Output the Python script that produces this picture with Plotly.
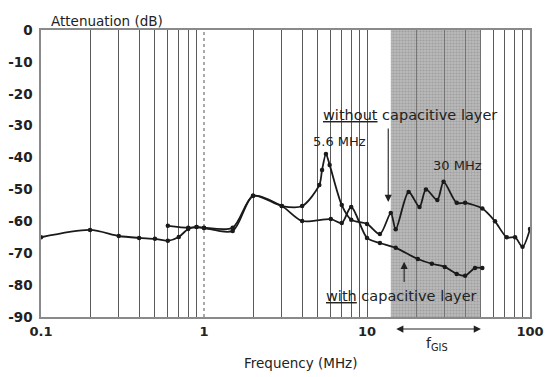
import math
import plotly.graph_objects as go

# ---- data ----
freq_without = [0.1, 0.2, 0.3, 0.4, 0.5, 0.6, 0.7, 0.8, 0.9, 1.0, 1.5, 2.0, 3.0, 4.0, 5.1, 5.3, 5.6, 5.9,
                7.0, 8.0, 10, 12, 14, 15, 18, 21, 23, 27, 29.5, 35.5, 40, 51, 61, 72, 81, 90, 100]
db_without = [-65, -62.7, -64.6, -65.2, -65.5, -66.1, -64.9, -62.4, -61.8, -62.1, -63.0, -52.0, -55.2, -55.2,
              -48.6, -43.9, -38.9, -42.3, -54.9, -59.5, -60.8, -64.0, -57.4, -62.5, -50.8, -55.5, -50.0,
              -53.3, -47.6, -54.2, -54.2, -56.0, -60.0, -65.0, -65.0, -68.0, -62.4]

freq_with = [0.6, 0.8, 0.9, 1.0, 1.5, 2.0, 3.0, 4.0, 6.0, 7.0, 8.0, 10, 12, 15, 20.5, 25, 30, 35.5, 40, 46, 51]
db_with = [-61.4, -62.0, -61.8, -62.0, -62.0, -52.0, -55.2, -59.9, -59.3, -60.5, -55.5, -65.2, -66.8, -68.3,
           -71.8, -73.3, -74.3, -76.5, -77.1, -74.6, -74.6]

gis_band = [14, 50]
y_ticks = [0, -10, -20, -30, -40, -50, -60, -70, -80, -90]
y_tick_text = ["0", "-10", "-20", "-30", "-40", "-50", "-60", "-70", "-80", "-90"]
x_major = [0.1, 1, 10, 100]
x_major_text = ["0.1", "1", "10", "100"]
x_minor = [m * d for d in (0.1, 1, 10) for m in range(2, 10)] + [10, 100]

FONT = "DejaVu Sans"
TXT = "#222"
fig = go.Figure()

# GIS frequency band (shaded)
fig.add_trace(go.Scatter(
    x=[gis_band[0], gis_band[1], gis_band[1], gis_band[0], gis_band[0]],
    y=[0, 0, -90, -90, 0], mode="lines", fill="toself",
    fillcolor="rgba(100,100,100,0.55)", line=dict(width=0),
    fillpattern=dict(shape=".", size=3, solidity=0.4,
                     fgcolor="rgba(95,95,95,0.6)", bgcolor="rgba(140,140,140,0.6)"),
    hoverinfo="skip", showlegend=False))

common = dict(mode="lines+markers", line=dict(color="#1a1a1a", width=1.8, shape="spline", smoothing=0.8),
              marker=dict(color="#1a1a1a", size=4.5), showlegend=False)
fig.add_trace(go.Scatter(x=freq_without, y=db_without, name="without capacitive layer", **common))
fig.add_trace(go.Scatter(x=freq_with, y=db_with, name="with capacitive layer", **common))

# dotted line at 1 MHz
fig.add_shape(type="line", x0=1, x1=1, y0=-90, y1=0, xref="x", yref="y",
              line=dict(color="#555", width=1, dash="dot"), layer="below")

L = math.log10
ann = [
    dict(text="Attenuation (dB)", xref="paper", yref="paper", x=0.016, y=1.0, xanchor="left",
         yanchor="bottom", yshift=-1, showarrow=False, font=dict(size=13.5, family=FONT, color=TXT)),
    dict(text="Frequency (MHz)", xref="paper", yref="paper", x=0.53, y=-0.16, xanchor="center",
         yanchor="middle", showarrow=False, font=dict(size=13.5, family=FONT, color=TXT)),
    dict(text="<u>without</u> capacitive layer", xref="x", yref="y", x=L(5.25), y=-26.6, xanchor="left",
         yanchor="middle", showarrow=False, font=dict(size=14.5, family=FONT, color=TXT)),
    dict(text="<u>with</u> capacitive layer", xref="x", yref="y", x=L(16.2), y=-83.4, xanchor="center",
         yanchor="middle", showarrow=False, font=dict(size=14.5, family=FONT, color=TXT)),
    dict(text="5.6 MHz", xref="x", yref="y", x=L(6.8), y=-35.1, xanchor="center", yanchor="middle",
         showarrow=False, font=dict(size=13, family=FONT, color=TXT)),
    dict(text="30 MHz", xref="x", yref="y", x=L(36), y=-42.6, xanchor="center", yanchor="middle",
         showarrow=False, font=dict(size=13, family=FONT, color=TXT)),
    dict(text="f<sub>GIS</sub>", xref="x", yref="paper", x=L(26.9), y=-0.095, xanchor="center",
         yanchor="middle", showarrow=False, font=dict(size=14, family=FONT, color=TXT)),
    # down arrow to "without" curve
    dict(text="", xref="x", yref="y", x=L(13.5), y=-53.9, axref="x", ayref="y", ax=L(13.5), ay=-30.4,
         showarrow=True, arrowhead=2, arrowsize=1.3, arrowwidth=1.1, arrowcolor=TXT),
    # up arrow to "with" curve
    dict(text="", xref="x", yref="y", x=L(16.9), y=-72.7, axref="x", ayref="y", ax=L(16.9), ay=-79.5,
         showarrow=True, arrowhead=2, arrowsize=1.3, arrowwidth=1.1, arrowcolor=TXT),
    # f_GIS double arrow
    dict(text="", xref="x", yref="paper", x=L(50), y=-0.042, axref="x", ayref="pixel", ax=L(14.8),
         ay=0, showarrow=True, arrowhead=2, arrowside="end+start", arrowsize=1.3, arrowwidth=1.1,
         arrowcolor=TXT),
]
fig.update_layout(annotations=ann)

fig.update_xaxes(type="log", range=[-1, 2], tickmode="array", tickvals=x_major, ticktext=x_major_text,
                 showgrid=False, zeroline=False, showline=True, linecolor="#8a8a8a", linewidth=1.5,
                 mirror=True, ticks="", automargin=False, ticklabelstandoff=2,
                 tickfont=dict(size=13, family=FONT, color=TXT, weight="bold"),
                 minor=dict(tickmode="array", tickvals=x_minor, showgrid=True, gridcolor="#5a5a5a",
                            gridwidth=1, ticks=""))
fig.update_yaxes(range=[-90, 0], tickmode="array", tickvals=y_ticks, ticktext=y_tick_text, showgrid=False,
                 zeroline=False, showline=True, linecolor="#8a8a8a", linewidth=1.5, mirror=True, ticks="",
                 automargin=False, tickfont=dict(size=13.5, family=FONT, color=TXT, weight="bold"),
                 ticklabelstandoff=4)

fig.update_layout(width=545, height=377, margin=dict(l=41, r=15, t=30, b=60),
                  plot_bgcolor="white", paper_bgcolor="white")
fig.write_html("out.html", config={"displayModeBar": False},
               post_script="document.body.style.margin='0';document.body.style.padding='0';")
